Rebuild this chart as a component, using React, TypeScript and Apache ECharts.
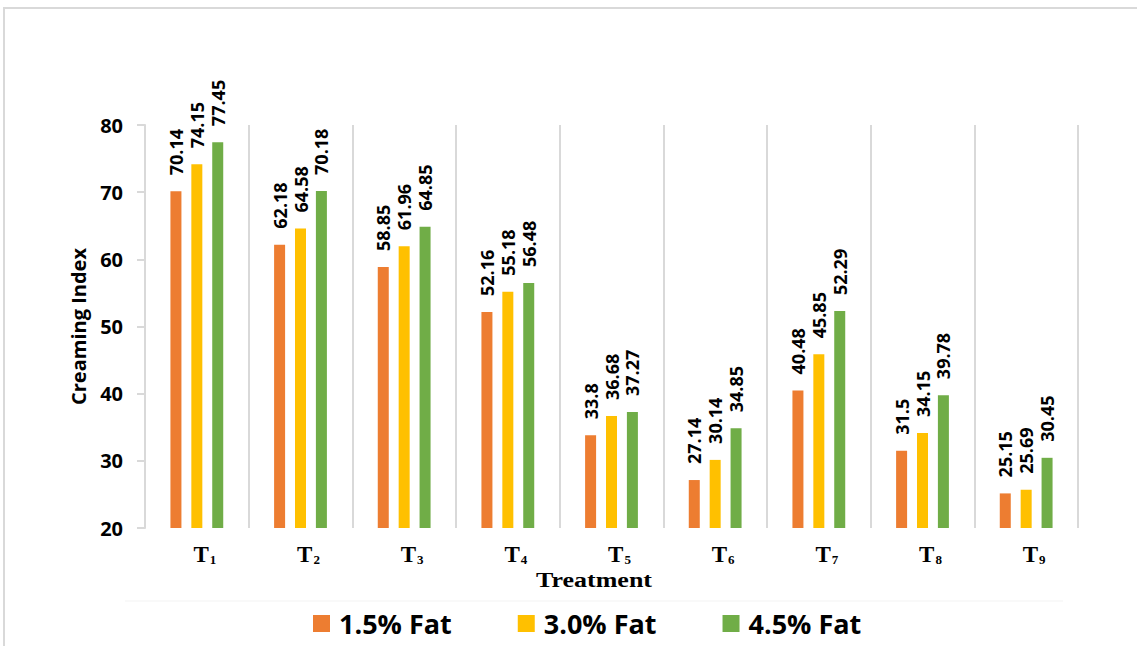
import React, { useEffect, useRef } from "react";
import * as echarts from "echarts";

const categories = ["T1", "T2", "T3", "T4", "T5", "T6", "T7", "T8", "T9"];
const fat15 = [70.14, 62.18, 58.85, 52.16, 33.8, 27.14, 40.48, 31.5, 25.15];
const fat30 = [74.15, 64.58, 61.96, 55.18, 36.68, 30.14, 45.85, 34.15, 25.69];
const fat45 = [77.45, 70.18, 64.85, 56.48, 37.27, 34.85, 52.29, 39.78, 30.45];
const seriesNames = ["1.5% Fat", "3.0% Fat", "4.5% Fat"];
const colors = ["#ED7D31", "#FFC000", "#70AD47"];

const SANS = '"Open Sans", "Noto Sans", sans-serif';
const SERIF = '"Liberation Serif", "DejaVu Serif", serif';
const GRID_GRAY = "#d9d9d9";

export default function App() {
  const ref = useRef<HTMLDivElement>(null);

  useEffect(() => {
    if (!ref.current) return;
    const chart = echarts.init(ref.current, null, { renderer: "svg" });

    const makeSeries = (name: string, data: number[], color: string) => ({
      name,
      type: "bar",
      data,
      barWidth: 11,
      barGap: "90%",
      itemStyle: { color },
      label: {
        show: true,
        position: "top",
        rotate: 90,
        align: "left",
        verticalAlign: "middle",
        distance: 16,
        fontFamily: SANS,
        fontWeight: "bold",
        fontSize: 18,
        color: "#000",
      },
    });

    chart.setOption({
      animation: false,
      backgroundColor: "#fff",
      grid: { left: 145, right: 59, top: 125, bottom: 118, containLabel: false },
      legend: {
        data: seriesNames,
        left: 308,
        top: 605,
        itemWidth: 17,
        itemHeight: 17,
        itemGap: 66,
        icon: "rect",
        textStyle: {
          fontFamily: SANS,
          fontWeight: "bold",
          fontSize: 27,
          color: "#000",
          padding: [0, 0, 0, 4],
        },
      },
      xAxis: {
        type: "category",
        data: categories,
        axisLine: { show: false },
        axisTick: { show: false },
        splitLine: { show: true, lineStyle: { color: GRID_GRAY, width: 2 } },
        axisLabel: {
          margin: 15,
          padding: [0, 0, 0, 16],
          formatter: (v: string) => `{t|${v[0]}}{s|${v.slice(1)}}`,
          rich: {
            t: {
              fontFamily: SERIF,
              fontWeight: "bold",
              fontSize: 23,
              lineHeight: 23,
              color: "#000",
              padding: [0, 1, 4, 0],
              verticalAlign: "top",
            },
            s: {
              fontFamily: SERIF,
              fontWeight: "bold",
              fontSize: 13,
              lineHeight: 13,
              color: "#000",
              verticalAlign: "bottom",
            },
          },
        },
      },
      yAxis: {
        type: "value",
        min: 20,
        max: 80,
        interval: 10,
        name: "Creaming Index",
        nameLocation: "middle",
        nameGap: 57,
        nameTextStyle: {
          fontFamily: SANS,
          fontWeight: "bold",
          fontSize: 20,
          color: "#000",
        },
        axisLine: { show: true, lineStyle: { color: GRID_GRAY, width: 2 } },
        axisTick: { show: true, length: 8, lineStyle: { color: GRID_GRAY, width: 2 } },
        splitLine: { show: false },
        axisLabel: {
          margin: 22,
          fontFamily: SANS,
          fontWeight: "bold",
          fontSize: 20,
          color: "#000",
        },
      },
      graphic: [
        {
          type: "rect",
          silent: true,
          shape: { x: 4, y: 8, width: 1160, height: 660 },
          style: { fill: "none", stroke: GRID_GRAY, lineWidth: 2 },
          z: -10,
        },
        {
          type: "line",
          silent: true,
          shape: { x1: 125, y1: 601, x2: 1063, y2: 601 },
          style: { stroke: "#f3f3f3", lineWidth: 1 },
        },
        {
          type: "text",
          x: 594,
          y: 580,
          scaleX: 1.3,
          style: {
            text: "Treatment",
            font: `bold 20px ${SERIF}`,
            fill: "#000",
            align: "center",
            verticalAlign: "middle",
          },
        },
      ],
      series: [
        makeSeries(seriesNames[0], fat15, colors[0]),
        makeSeries(seriesNames[1], fat30, colors[1]),
        makeSeries(seriesNames[2], fat45, colors[2]),
      ],
    });

    return () => chart.dispose();
  }, []);

  return (
    <div
      ref={ref}
      style={{ position: "absolute", left: 0, top: 0, width: 1137, height: 646 }}
    />
  );
}
